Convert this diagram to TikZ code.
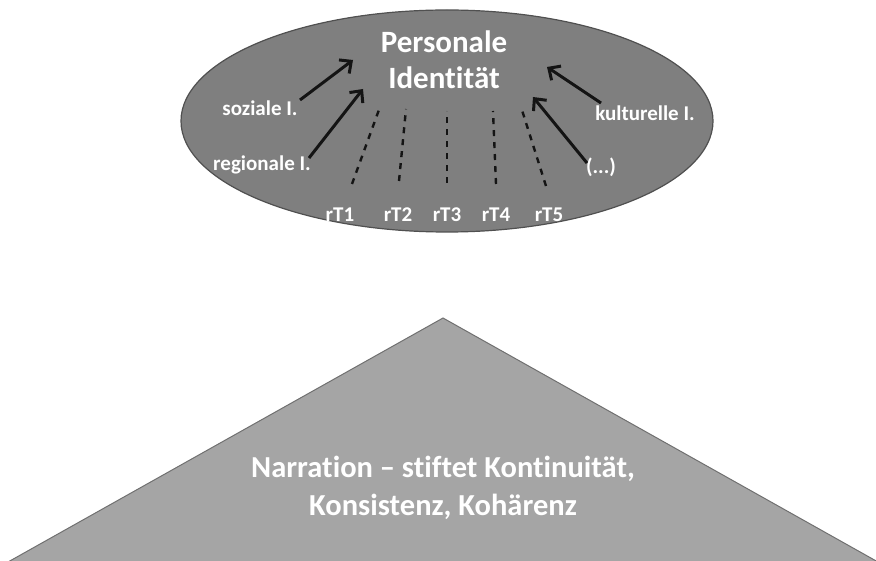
\documentclass[tikz,border=0pt]{standalone}
\usepackage{fontspec}
\setmainfont{Carlito}[Ligatures=NoCommon]
\usetikzlibrary{arrows.meta}
\definecolor{ellfill}{HTML}{7F7F7F}
\definecolor{ellline}{HTML}{505050}
\definecolor{trifill}{HTML}{A5A5A5}
\definecolor{triline}{HTML}{707070}
\definecolor{arrcol}{HTML}{141414}
\tikzset{
  lbl/.style={text=white, font=\fontsize{21}{25}\selectfont\bfseries, inner sep=0pt},
  rtlbl/.style={text=white, font=\fontsize{21}{25}\selectfont\bfseries, inner sep=0pt},
  arr/.style={draw=arrcol, line width=3pt, -{Straight Barb[length=9pt,width=17pt,line width=3pt]}},
  dashln/.style={draw=arrcol, line width=2.4pt, dash pattern=on 6pt off 6pt},
}
\begin{document}
\begin{tikzpicture}[x=1pt,y=-1pt]
\useasboundingbox (0,0) rectangle (876,561);
% ellipse
\fill[ellfill] (447,121) ellipse [x radius=266, y radius=111];
\draw[ellline, line width=1.2pt] (447,121) ellipse [x radius=266, y radius=111];
% triangle
\filldraw[fill=trifill, draw=triline, line width=1pt] (443,318) -- (8,562) -- (878,562) -- cycle;
% title
\node[text=white, font=\fontsize{31}{36}\selectfont\bfseries, align=center, inner sep=0pt] (title) at (444,60) {Personale\\Identität};
% labels
\node[lbl] (soz) at (260,108) {soziale I.};
\node[lbl] (reg) at (262,165) {regionale I.};
\node[lbl] (kul) at (645,113) {kulturelle I.};
\node[lbl] (etc) at (601,167) {(...)};
\node[rtlbl] (rt1) at (340,215) {rT1};
\node[rtlbl] (rt2) at (398,215) {rT2};
\node[rtlbl] (rt3) at (447,215) {rT3};
\node[rtlbl] (rt4) at (496,215) {rT4};
\node[rtlbl] (rt5) at (549,215) {rT5};
% arrow coordinates
\coordinate (sozT) at (300,100);
\coordinate (sozH) at (353,60);
\coordinate (regT) at (309,158);
\coordinate (regH) at (363,89);
\coordinate (kulT) at (601,103);
\coordinate (kulH) at (547,67);
\coordinate (etcT) at (587,163);
\coordinate (etcH) at (533,97);
\draw[arr] (sozT) -- (sozH);
\draw[arr] (regT) -- (regH);
\draw[arr] (kulT) -- (kulH);
\draw[arr] (etcT) -- (etcH);
% dashed lines
\coordinate (d1a) at (352,184); \coordinate (d1b) at (380,107);
\coordinate (d2a) at (399,181); \coordinate (d2b) at (406,109);
\coordinate (d3a) at (447,183); \coordinate (d3b) at (447,111);
\coordinate (d4a) at (496,184); \coordinate (d4b) at (493,111);
\coordinate (d5a) at (546,186); \coordinate (d5b) at (521,107);
\draw[dashln] (d1a) -- (d1b);
\draw[dashln] (d2a) -- (d2b);
\draw[dashln] (d3a) -- (d3b);
\draw[dashln] (d4a) -- (d4b);
\draw[dashln] (d5a) -- (d5b);
% narration
\node[text=white, font=\fontsize{30.5}{38}\selectfont\bfseries, align=center, inner sep=0pt] (narr) at (443,488) {Narration – stiftet Kontinuität,\\Konsistenz, Kohärenz};
\end{tikzpicture}
\end{document}
